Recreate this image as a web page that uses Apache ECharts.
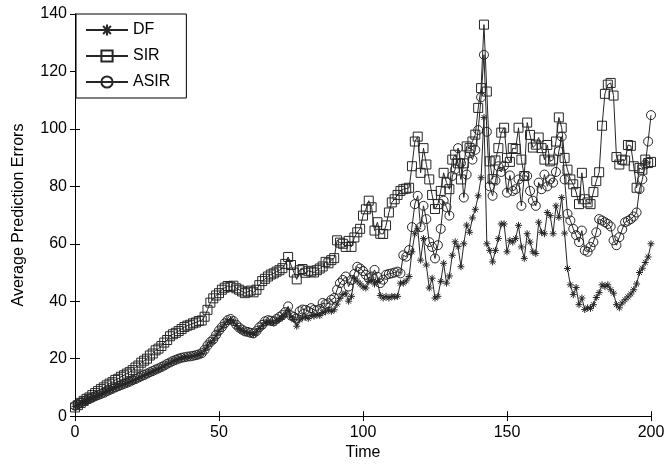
<!DOCTYPE html>
<html>
<head>
<meta charset="utf-8">
<script src="https://cdn.jsdelivr.net/npm/echarts@6/dist/echarts.min.js"></script>
<style>
html,body{margin:0;padding:0;background:#fff;}
#chart{width:668px;height:466px;}
</style>
</head>
<body>
<div id="chart"></div>
<script>
// Time steps 0..200 (one sample per step)
var xTicks = [0, 50, 100, 150, 200];
var yTicks = [0, 20, 40, 60, 80, 100, 120, 140];

var dfValues = [
3.4,3.9,4.5,5,5.4,5.9,6.3,6.8,7.1,7.5,
8,8.4,8.9,9.3,9.8,10.2,10.6,11.1,11.4,11.8,
12.3,12.7,13.2,13.7,14.1,14.6,15.1,15.5,16,16.4,
16.9,17.5,18,18.5,19.1,19.5,19.8,20.2,20.4,20.6,
20.7,20.9,21.1,21.4,21.8,22.9,24.4,25.6,26.4,28,
29.5,30.7,32,33.1,33.6,32.8,31.5,30.4,29.8,29.2,
29,28.6,28.4,29.3,30.5,31.4,32.5,32.8,32.6,32.4,
33.2,33.8,34.4,35.5,36.8,34.5,33.6,31.3,33.5,34.2,
34.5,34,34.9,34.8,35.3,35,36,36.3,37,36.5,
37,39,41,42.3,42.8,40,41.7,48,47,46,
45,44.6,46.9,47.4,46,46.9,42,41.1,41.7,41.1,
41.7,41.5,41.7,46.3,46.3,47.1,48.6,57.2,63.5,65.2,
54.3,61.8,52.6,44.6,48,41.1,41.7,46.9,53.2,46.3,
48.8,56,60.7,59,52,60,66.5,64,69,72,
76.7,83,104,60,57.7,53.7,57.7,61.8,66.9,66.9,
57.2,61.2,60.6,61.8,66.4,58.9,54.9,63.5,60.6,57.2,
56.6,67.5,64,63.5,70.9,69.8,63.5,73.2,69.2,76.1,
63.7,51.4,45.7,42.3,44.8,38.8,41.1,37.1,37.7,37.5,
38.8,41.3,43,45.7,45.1,45.7,44,42.8,38.8,37.7,
39.4,40.5,41.5,42.5,44,46,50,51.5,53.5,55.4,
60
];

var sirValues = [
3,3.8,4.6,5.3,6,6.5,7.3,8,8.7,9.4,
10,10.7,11.3,11.8,12.6,13,13.7,14.2,14.8,15.3,
16,16.9,17.6,18.6,19.3,20,21.1,21.8,22.9,23.5,
24.4,25.6,26.5,27.8,28.5,29,29.6,30.3,31,31.5,
31.8,32.3,32.6,33.1,33.3,34.6,37,39.5,41,42,
42.8,44,44.7,45.3,45,45.4,44.5,44,43.4,42.8,
43.3,43.7,43.1,44,45.6,47,47.8,48.6,49.3,49.7,
50.3,50.8,51.5,53,55.4,52.6,50,47.6,50.8,51.2,
49.9,50.6,50.3,50,50.8,51.4,52.1,53.7,53.2,54.3,
55,61.2,60.4,60,58.9,61,58.9,62.2,64,65.2,
69.8,72,75,72.7,64.6,67.5,63.5,63.4,66.4,70.9,
74.4,75.5,77,78.4,79,79.2,79.5,87,95.6,97.3,
84.7,93.3,87.6,82.4,77,72.1,73.8,78.4,84.7,81.3,
79,89.3,91,88,82.4,88,93.9,93.3,95.6,98,
107.3,114.2,136.3,113,88.7,82.5,89,93.3,98.7,100.4,
89.9,88.5,93.3,93,100.4,89.3,83.6,102.2,97.9,93.5,
94.5,97,93.3,89.3,94.4,88.7,89.3,95.6,104,100.4,
89.9,85.8,82.4,80.7,78,73.8,84.7,75.5,74.4,73.8,
78,81.8,84.9,101.1,112.2,115.4,116,111.6,90.2,87.6,
89.3,89,94.4,94.1,87,79.5,86.4,85.8,89.3,88.1,
88.5
];

var asirValues = [
3.6,4.1,4.7,5.2,5.6,6.1,6.5,6.9,7.3,7.7,
8.1,8.6,9.1,9.5,10,10.4,10.8,11.2,11.6,12,
12.5,12.9,13.4,13.9,14.3,14.8,15.3,15.7,16.2,16.6,
17.1,17.6,18.2,18.7,19.2,19.6,20,20.3,20.5,20.7,
20.8,21,21.2,21.5,21.9,23.1,24.6,25.8,26.7,28.3,
29.8,31,32.3,33.4,33.8,33.1,31.8,30.8,30.1,29.5,
29.3,29,28.8,29.6,30.9,31.8,33,33.4,33.2,33,
33.8,34.5,35.2,36.2,38.2,35,34.5,34,36.5,37.1,
37,36.5,37.6,37,36.8,37.3,39.4,39,39.3,40.5,
41.1,44,46.3,47.4,48.6,45.1,47.4,49.5,52,51.4,
50.5,49.2,48,48.6,50.9,48.5,46.3,47.5,49.2,49.5,
49.7,50,50.3,49.7,56,55.5,57.8,65.8,73.8,76.7,
65.8,73.2,68.6,60.6,58.9,54.9,59.5,65.2,75,72.7,
69.8,83.6,85.9,93.3,88.1,76.1,84.1,91.6,89.3,92.7,
99.6,111,125.8,99,80,76.7,82,87,85,87.2,
77.8,83.8,78.4,79,82.4,73.2,83.6,83.6,78.4,75,
73.2,81.3,79,84.1,80,82.4,81.3,85,92.2,97.3,
82.4,70.4,68.1,65.2,63,60.6,64.6,57.7,57.2,58.9,
60.6,64,68.6,68.1,67.5,66.9,66,61.2,59.5,62.3,
65,67.5,68,68.6,69.5,70.9,79,82.4,87.6,95.6,
104.8
];

function pairs(vals){ return vals.map(function(v,i){ return [i, v]; }); }

var ink = '#262626';
var font = 'Liberation Sans, Arial, Helvetica, sans-serif';
var starPath = 'path://M5 0 L5 10 M0 5 L10 5 M1.5 1.5 L8.5 8.5 M1.5 8.5 L8.5 1.5';

var chart = echarts.init(document.getElementById('chart'), null, {renderer:'canvas'});

var axisLine = {show:true, lineStyle:{color:'#000', width:1}};
var tick = {show:true, inside:true, length:5, lineStyle:{color:'#000', width:1}};
var label = {color:'#000', fontSize:16, fontFamily:font, margin:8};

chart.setOption({
  animation:false,
  backgroundColor:'#fff',
  grid:{left:75, right:17, top:14, bottom:45, containLabel:false},
  legend:{
    left:76, top:14, orient:'vertical',
    data:['DF','SIR','ASIR'],
    itemWidth:42, itemHeight:14, itemGap:10,
    padding:[8,16,8,9],
    borderColor:'#000', borderWidth:1, borderRadius:0,
    backgroundColor:'#fff',
    textStyle:{color:'#000', fontSize:16, fontFamily:font},
    selectedMode:false
  },
  xAxis:[{
    type:'value', min:xTicks[0], max:xTicks[xTicks.length-1], interval:50,
    name:'Time', nameLocation:'middle', nameGap:27,
    nameTextStyle:{color:'#000', fontSize:16, fontFamily:font},
    axisLine:axisLine, axisTick:tick, axisLabel:label, splitLine:{show:false}
  },{
    type:'value', position:'top', min:0, max:200, interval:50,
    axisLine:axisLine, axisTick:tick, axisLabel:{show:false}, splitLine:{show:false}
  }],
  yAxis:[{
    type:'value', min:yTicks[0], max:yTicks[yTicks.length-1], interval:20,
    name:'Average Prediction Errors', nameLocation:'middle', nameGap:48,
    nameTextStyle:{color:'#000', fontSize:16, fontFamily:font},
    axisLine:axisLine, axisTick:tick, axisLabel:label, splitLine:{show:false}
  },{
    type:'value', position:'right', min:0, max:140, interval:20,
    axisLine:axisLine, axisTick:tick, axisLabel:{show:false}, splitLine:{show:false}
  }],
  series:[{
    name:'DF', type:'line', data:pairs(dfValues), clip:false,
    symbol:starPath, symbolSize:7,
    lineStyle:{color:ink, width:1},
    itemStyle:{color:ink, borderColor:ink, borderWidth:1}
  },{
    name:'SIR', type:'line', data:pairs(sirValues), clip:false,
    symbol:'rect', symbolSize:9,
    lineStyle:{color:ink, width:1},
    itemStyle:{color:'rgba(0,0,0,0)', borderColor:ink, borderWidth:1}
  },{
    name:'ASIR', type:'line', data:pairs(asirValues), clip:false,
    symbol:'circle', symbolSize:9,
    lineStyle:{color:ink, width:1},
    itemStyle:{color:'rgba(0,0,0,0)', borderColor:ink, borderWidth:1}
  }]
});
</script>
</body>
</html>
